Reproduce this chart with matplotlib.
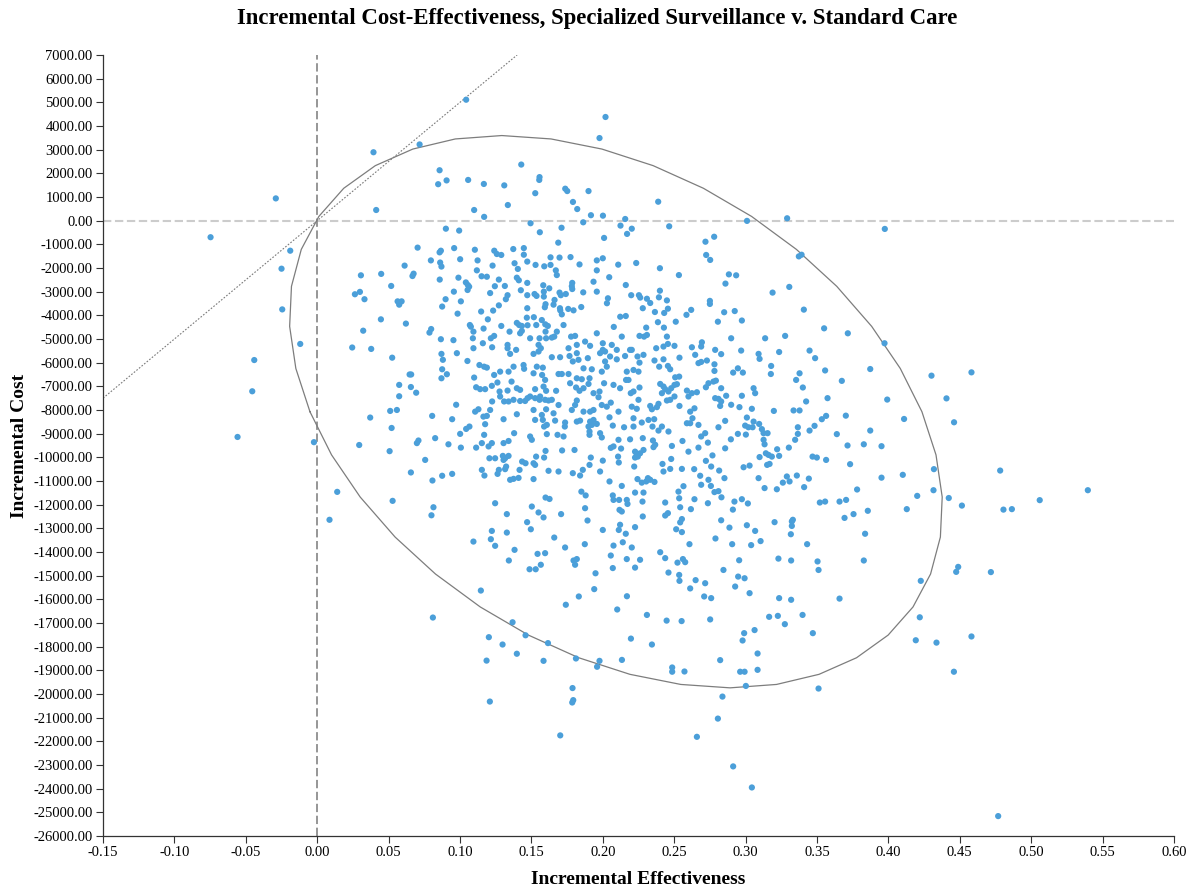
import numpy as np
import matplotlib.pyplot as plt
from matplotlib.ticker import MultipleLocator, FormatStrFormatter

plt.rcParams['font.family'] = ['Liberation Serif', 'DejaVu Serif']
plt.rcParams['lines.scale_dashes'] = False

# incremental effectiveness / incremental cost of each simulation run

# far left and left edge of the cloud
eff_left = [0.0394, -0.029, 0.0413, -0.0747, -0.0189, -0.025, -0.0245, 0.0717, 0.0703, 0.0612,
            0.0675, 0.0667, 0.0448, 0.0306, 0.0518, 0.0264, 0.0299, 0.0331, 0.0563, 0.0591,
            0.0574, 0.0446, 0.0621, 0.0322, -0.0119, -0.0441, 0.0245, 0.0378, 0.0525, 0.0647,
            0.0658, 0.0574, 0.0656, 0.0693, -0.0455, 0.0574, 0.0511, 0.0558, 0.0371, 0.0521,
            -0.0558, -0.0023, 0.0294, 0.0507, 0.0698, 0.0709, 0.0656, 0.014, 0.0528, 0.0086]
cost_left = [2890, 940, 450, -700, -1270, -2030, -3750, 3220, -1140, -1900,
             -2240, -2340, -2250, -2310, -2760, -3110, -3010, -3320, -3410, -3410,
             -3550, -4170, -4350, -4650, -5210, -5890, -5360, -5420, -5790, -6500,
             -6500, -6940, -7030, -7270, -7210, -7420, -8040, -8000, -8320, -8760,
             -9140, -9360, -9480, -9740, -9400, -9290, -10640, -11460, -11840, -12640]

# upper part, effectiveness 0.07 - 0.23
eff_upper = [0.1043, 0.2019, 0.1977, 0.1429, 0.0857, 0.0847, 0.0906, 0.1057, 0.1167, 0.131,
             0.1557, 0.1555, 0.1527, 0.1335, 0.1099, 0.1169, 0.1737, 0.1751, 0.19, 0.1791,
             0.1821, 0.1917, 0.2001, 0.1863, 0.1494, 0.1711, 0.1559, 0.2157, 0.2124, 0.2203,
             0.217, 0.2009, 0.1688, 0.0901, 0.0994, 0.0959, 0.0866, 0.0857, 0.1104, 0.124,
             0.1258, 0.1289, 0.1373, 0.1447, 0.1447, 0.0796, 0.0861, 0.087, 0.1001, 0.1123,
             0.1228, 0.1382, 0.1405, 0.1471, 0.1529, 0.159, 0.1634, 0.1697, 0.1774, 0.1634,
             0.1671, 0.1678, 0.1837, 0.1958, 0.2, 0.1958, 0.2108, 0.2234, 0.0858, 0.0989,
             0.1118, 0.1151, 0.1188, 0.1041, 0.1055, 0.1064, 0.1053, 0.1272, 0.1244, 0.1314,
             0.1398, 0.1412, 0.1471, 0.1426, 0.1583, 0.1625, 0.1587, 0.1587, 0.1471, 0.1522,
             0.1536, 0.0957, 0.0899, 0.1006, 0.0875, 0.0983, 0.1211, 0.1333, 0.1321, 0.1272,
             0.1232, 0.1148, 0.1195, 0.1069, 0.1076, 0.0798, 0.1165, 0.1289, 0.1471, 0.1468,
             0.1398, 0.1414, 0.1433, 0.1473, 0.1517, 0.1534, 0.1573, 0.1615, 0.1597, 0.1599,
             0.1594, 0.1662, 0.1655, 0.1697, 0.1706, 0.1741, 0.1786, 0.1783, 0.1786, 0.1863,
             0.1935, 0.1958, 0.2045, 0.2036, 0.2029, 0.2161, 0.2199, 0.2253, 0.2262, 0.228,
             0.17, 0.1713, 0.1702, 0.1758, 0.1795, 0.1849, 0.1725, 0.2122, 0.2161, 0.2077]
cost_upper = [5110, 4380, 3490, 2370, 2130, 1540, 1700, 1720, 1550, 1490,
              1840, 1720, 1160, 660, 450, 160, 1350, 1250, 1250, 790,
              490, 230, 210, -70, -110, -300, -490, 70, -210, -340,
              -560, -730, -930, -340, -420, -1160, -1270, -1340, -1230, -1270,
              -1410, -1450, -1200, -1160, -1440, -1680, -1770, -1940, -1630, -1680,
              -1900, -1800, -2040, -1730, -1870, -1930, -1550, -1560, -1540, -1870,
              -2100, -2300, -1850, -1680, -1590, -2100, -1860, -1790, -2490, -2410,
              -2100, -2350, -2370, -2610, -2720, -2790, -2930, -2490, -2770, -2760,
              -2410, -2520, -2630, -2940, -2730, -2860, -3000, -3210, -3150, -3100,
              -3180, -3000, -3320, -3410, -3630, -3930, -3060, -3150, -3320, -3580,
              -3800, -3840, -4170, -4410, -4480, -4580, -4560, -4450, -3700, -4100,
              -4320, -4410, -4450, -4420, -4080, -4410, -4200, -4450, -4380, -3530,
              -3660, -3350, -3550, -3040, -3150, -3100, -2630, -2770, -2890, -3030,
              -2580, -3000, -2390, -3280, -3490, -2720, -3150, -3150, -3250, -3700,
              -3700, -3960, -3790, -3730, -3790, -3650, -4410, -4060, -4030, -4490]

# upper right
eff_upper_r = [0.2388, 0.2465, 0.301, 0.3291, 0.2719, 0.278, 0.2724, 0.2752, 0.3373, 0.3392,
               0.24, 0.2533, 0.2883, 0.2934, 0.2859, 0.3189, 0.3306, 0.24, 0.2393, 0.2449,
               0.2309, 0.2332, 0.275, 0.275, 0.2456, 0.243, 0.2365, 0.2619, 0.2586, 0.285,
               0.2924, 0.3408, 0.2386, 0.2511, 0.2806, 0.2974, 0.2428, 0.2304, 0.355]
cost_upper_r = [800, -240, -10, 100, -890, -680, -1450, -1660, -1510, -1440,
                -2010, -2300, -2270, -2310, -2660, -3040, -2800, -2960, -3240, -3370,
                -3300, -3480, -3390, -3520, -3720, -3900, -3860, -3770, -3980, -3870,
                -3820, -3760, -4290, -4270, -4270, -4220, -4520, -4520, -4550]

# right side
eff_right = [0.3975, 0.3973, 0.3873, 0.4302, 0.4582, 0.3992, 0.4407, 0.411, 0.446, 0.3873,
             0.3952, 0.3952, 0.4101, 0.4319, 0.4316, 0.4202, 0.4129, 0.4423, 0.4515, 0.4783,
             0.4806, 0.4865, 0.506, 0.5397, 0.3856, 0.4489, 0.4475, 0.4718, 0.4227, 0.422,
             0.4192, 0.4337, 0.4582, 0.4459, 0.4769]
cost_right = [-350, -5180, -6270, -6550, -6410, -7560, -7510, -8380, -8520, -8870,
              -9530, -10860, -10740, -10500, -11390, -11630, -12190, -11720, -12040, -10560,
              -12210, -12190, -11810, -11390, -12260, -14630, -14840, -14850, -15220, -16760,
              -17730, -17830, -17570, -19060, -25160]

# lower right
eff_lower_r = [0.2537, 0.265, 0.2717, 0.2612, 0.271, 0.2759, 0.2927, 0.2948, 0.2993, 0.3028,
               0.2309, 0.2447, 0.2552, 0.2752, 0.2344, 0.2486, 0.2486, 0.2572, 0.2822, 0.2962,
               0.2993, 0.3084, 0.2979, 0.299, 0.3063, 0.3084, 0.3002, 0.2838, 0.2806, 0.2659,
               0.2913, 0.3044, 0.3165, 0.3226, 0.3235, 0.3319, 0.3275, 0.3399, 0.3471, 0.3511,
               0.3658]
cost_lower_r = [-15220, -15190, -15320, -15540, -15880, -15950, -15460, -15040, -15110, -15740,
                -16660, -16900, -16920, -16850, -17910, -18880, -19060, -19050, -18570, -19060,
                -19060, -18980, -17740, -17430, -17300, -18290, -19660, -20110, -21040, -21810,
                -23060, -23950, -16740, -16700, -15950, -16020, -17050, -16660, -17430, -19770,
                -15970]

# lower left
eff_lower = [0.1146, 0.081, 0.1368, 0.1202, 0.1298, 0.1459, 0.1398, 0.1186, 0.1616, 0.1585,
             0.1741, 0.1832, 0.194, 0.1812, 0.1977, 0.196, 0.2134, 0.2197, 0.2101, 0.2169,
             0.1788, 0.1793, 0.1786, 0.1209, 0.1702]
cost_lower = [-15630, -16770, -16970, -17600, -17910, -17520, -18300, -18590, -17850, -18600,
              -16230, -15880, -15570, -18500, -18600, -18850, -18560, -17660, -16430, -15870,
              -19750, -20260, -20360, -20320, -21750]

# core of the cloud, effectiveness 0.07 - 0.23
eff_core = [0.0786, 0.0866, 0.0954, 0.1094, 0.109, 0.116, 0.1239, 0.1216, 0.1347, 0.1421,
            0.1333, 0.1433, 0.1491, 0.1557, 0.155, 0.1603, 0.1643, 0.1678, 0.166, 0.1599,
            0.1778, 0.1806, 0.1818, 0.1876, 0.1911, 0.1958, 0.2, 0.2016, 0.2133, 0.2063,
            0.2191, 0.2257, 0.2289,
            0.087, 0.088, 0.0978, 0.1052, 0.1094, 0.1225, 0.1333, 0.1393, 0.1351, 0.1515,
            0.155, 0.1566, 0.1643, 0.1701, 0.176, 0.1767, 0.179, 0.183, 0.1818, 0.1895,
            0.1981, 0.2, 0.2051, 0.2098, 0.2098, 0.2156, 0.2243, 0.2257, 0.2285, 0.2203,
            0.0875, 0.0908, 0.087, 0.1136, 0.1169, 0.1188, 0.1375, 0.1445, 0.1449, 0.1281,
            0.134, 0.1239, 0.1099, 0.1538, 0.158, 0.1515, 0.169, 0.1713, 0.176, 0.1865,
            0.1923, 0.1993, 0.2028, 0.2016, 0.2168, 0.2215, 0.225, 0.1818, 0.1853, 0.1907,
            0.1575, 0.1596, 0.2009,
            0.1113, 0.1141, 0.1176, 0.1223, 0.1262, 0.1277, 0.1333, 0.1361, 0.1398, 0.1421,
            0.1526, 0.1585, 0.1603, 0.1673, 0.1771, 0.1813, 0.1837, 0.1865, 0.19, 0.1935,
            0.197, 0.2075, 0.2121, 0.2163, 0.218, 0.2215, 0.2196, 0.2257, 0.1977,
            0.0973, 0.1106, 0.1129, 0.1211, 0.1225, 0.1281, 0.1309, 0.134, 0.1375, 0.1421,
            0.1456, 0.1473, 0.1491, 0.1526, 0.1557, 0.1561, 0.1596, 0.162, 0.1643, 0.1515,
            0.1603, 0.1573, 0.1655, 0.169, 0.1783, 0.1818, 0.1806, 0.1865, 0.1911, 0.1935,
            0.1993, 0.2028, 0.2056, 0.211, 0.2203, 0.2238, 0.225, 0.0805, 0.1398, 0.1188,
            0.0945, 0.1066, 0.1043, 0.1164, 0.1176, 0.1305, 0.1526, 0.158, 0.1608, 0.1666,
            0.1736, 0.1818, 0.1841, 0.1911, 0.1935, 0.19, 0.1923, 0.1958, 0.2047, 0.207,
            0.2149, 0.2215, 0.2273, 0.1734, 0.1589, 0.2215,
            0.0826, 0.0919, 0.1001, 0.1006, 0.1113, 0.1169, 0.1153, 0.12, 0.1223, 0.1305,
            0.134, 0.1379, 0.1491, 0.1503, 0.1608, 0.1683, 0.1725, 0.1907, 0.1907, 0.1981,
            0.1993, 0.211, 0.2191, 0.228, 0.2056, 0.2075, 0.2128,
            0.0756, 0.1206, 0.1246, 0.13, 0.1316, 0.134, 0.1305, 0.1435, 0.1459, 0.1533,
            0.1515, 0.1599, 0.1589, 0.1715, 0.1802, 0.1916, 0.2, 0.2107, 0.2112, 0.2226,
            0.2238, 0.2261, 0.2245, 0.2226, 0.2285,
            0.1153, 0.1171, 0.1272, 0.1263, 0.1323, 0.1316, 0.1351, 0.1375, 0.141, 0.1417,
            0.1515, 0.1526, 0.162, 0.169, 0.179, 0.1841, 0.186, 0.1907, 0.1981, 0.2047,
            0.2133, 0.222, 0.2243, 0.2273, 0.0807, 0.0875, 0.0945,
            0.185, 0.188, 0.1876, 0.207, 0.2075, 0.2114, 0.2168, 0.2173, 0.2117, 0.2133,
            0.2226, 0.2285, 0.2278, 0.0814, 0.08, 0.1246, 0.1328, 0.1503, 0.155, 0.1585,
            0.1599, 0.1627, 0.1708,
            0.1893, 0.2, 0.2121, 0.2112, 0.2161, 0.2226, 0.228, 0.1094, 0.1223, 0.1216,
            0.1328, 0.147, 0.1496, 0.166, 0.1736, 0.1874, 0.2075, 0.214, 0.2203, 0.1246,
            0.1342, 0.1382, 0.1543, 0.1596, 0.1487, 0.153, 0.1566, 0.1795, 0.1818, 0.1806,
            0.1949, 0.2056, 0.207, 0.2168, 0.2226, 0.2261]
cost_core = [-4730, -5010, -5050, -4690, -4970, -5180, -4870, -4970, -4690, -4760,
             -5250, -4660, -4970, -4970, -5250, -4970, -4940, -4690, -4900, -4690,
             -4900, -4870, -5250, -5110, -5290, -4760, -5180, -5530, -4900, -5250,
             -5460, -4870, -4900,
             -5630, -5880, -5600, -5930, -5390, -5350, -5390, -5460, -5630, -5630,
             -5530, -5390, -5770, -5770, -5390, -5720, -5950, -5880, -5600, -5810,
             -5600, -5460, -5740, -5460, -5860, -5720, -5740, -6000, -5670, -5460,
             -6280, -6490, -6660, -6100, -6170, -6210, -6170, -6100, -6260, -6380,
             -6380, -6520, -6630, -6170, -6210, -6450, -6480, -6480, -6480, -6240,
             -6280, -6380, -6170, -5950, -6380, -6310, -6380, -6660, -6700, -6660,
             -6520, -6730, -6870,
             -7040, -7120, -7120, -6980, -6840, -7220, -7180, -6800, -7080, -7150,
             -7120, -7010, -7190, -7190, -6870, -7050, -7190, -7080, -6900, -7290,
             -7460, -6940, -7080, -6730, -6730, -7220, -7290, -7050, -7220,
             -7780, -8070, -7970, -8000, -7640, -7430, -7640, -7640, -7570, -7620,
             -7620, -7500, -7430, -7500, -7570, -7430, -7570, -7600, -7570, -8000,
             -7970, -8210, -8140, -7790, -8000, -7600, -7790, -8070, -8070, -8000,
             -7790, -7860, -7690, -8070, -7860, -7950, -7570, -8250, -8180, -8250,
             -8390, -8700, -8800, -8280, -8600, -8390, -8420, -8420, -8630, -8450,
             -8530, -8490, -8450, -8490, -8420, -8700, -8630, -8590, -8310, -8660,
             -8730, -8350, -8530, -8700, -8700, -8700,
             -9190, -9450, -9010, -9590, -9590, -9050, -9400, -9540, -9400, -9400,
             -9310, -8980, -9120, -9260, -9020, -9050, -9120, -9050, -8910, -8980,
             -9160, -9260, -9240, -9190, -9600, -9540, -9630,
             -10110, -10040, -10040, -9940, -10040, -9940, -10110, -10180, -10250, -9970,
             -10250, -9730, -10010, -9710, -9690, -10010, -10140, -9970, -10220, -9760,
             -9850, -9830, -9970, -10010, -9690,
             -10530, -10770, -10530, -10700, -10390, -10500, -10950, -10910, -10870, -10530,
             -10920, -10320, -10570, -10600, -10670, -10770, -10530, -10320, -10600, -11020,
             -11210, -10390, -10920, -11070, -10980, -10780, -10700,
             -11450, -11610, -12150, -11610, -11800, -11800, -11800, -11970, -12220, -12290,
             -11490, -11490, -11870, -12110, -12450, -11940, -12400, -12080, -12330, -12540,
             -11700, -11760, -12400,
             -12670, -13070, -12850, -13070, -13230, -12950, -12500, -13560, -13110, -13460,
             -13180, -12740, -13040, -13390, -13810, -13670, -13730, -13590, -13810, -13740,
             -14360, -13910, -14080, -14050, -14730, -14730, -14540, -14360, -14300, -14540,
             -14900, -14150, -14680, -14300, -14660, -14330]

# core of the cloud, effectiveness 0.23 - 0.39
eff_mid = [0.2309, 0.2449, 0.2374, 0.2425, 0.2456, 0.2502, 0.2624, 0.2694, 0.2689, 0.2787,
           0.2899, 0.2969, 0.3137, 0.3277, 0.3716,
           0.2362, 0.2395, 0.2425, 0.2456, 0.2472, 0.2537, 0.2647, 0.267, 0.2689, 0.2729,
           0.2782, 0.2782, 0.2829, 0.2913, 0.2946, 0.2981, 0.3091, 0.3098, 0.3235, 0.3179,
           0.3177, 0.3448, 0.3487, 0.3557, 0.3378,
           0.2402, 0.2425, 0.2414, 0.2437, 0.246, 0.2479, 0.2502, 0.2519, 0.2507, 0.2535,
           0.2589, 0.26, 0.2624, 0.2659, 0.2722, 0.274, 0.2775, 0.2792, 0.2829, 0.2864,
           0.2974, 0.3056, 0.3067, 0.3354, 0.3401, 0.3674,
           0.2332, 0.2344, 0.239, 0.2379, 0.2449, 0.2472, 0.2502, 0.2537, 0.2612, 0.2642,
           0.2787, 0.281, 0.2822, 0.2829, 0.2899, 0.2957, 0.3044, 0.3198, 0.3336, 0.3378,
           0.3424, 0.3574, 0.3534, 0.3564, 0.3702,
           0.232, 0.236, 0.2348, 0.2414, 0.239, 0.246, 0.2589, 0.2612, 0.2628, 0.267,
           0.281, 0.2857, 0.3009, 0.2997, 0.302, 0.3056, 0.3049, 0.3095, 0.3114, 0.3126,
           0.3154, 0.2946, 0.3002, 0.2897, 0.2689, 0.2717, 0.3366, 0.3366, 0.3448, 0.3483,
           0.3639,
           0.2351, 0.2367, 0.2355, 0.2484, 0.2558, 0.26, 0.267, 0.2736, 0.2857, 0.3126,
           0.3133, 0.3142, 0.3161, 0.3184, 0.3151, 0.3168, 0.3221, 0.3235, 0.3098, 0.3303,
           0.3347, 0.3469, 0.3499, 0.3564, 0.3714, 0.3828, 0.2479, 0.2418,
           0.2425, 0.2472, 0.2554, 0.264, 0.2722, 0.2768, 0.2759, 0.2815, 0.2852, 0.2682,
           0.274, 0.2689, 0.2757, 0.2986, 0.3028, 0.3091, 0.3133, 0.3219, 0.3261, 0.3289,
           0.3308, 0.3359, 0.341, 0.3443, 0.3732, 0.3781, 0.2316, 0.2332, 0.2304, 0.2362,
           0.2565, 0.253, 0.2535, 0.2782, 0.281, 0.2831, 0.2642, 0.2542, 0.2617, 0.2736,
           0.2922, 0.2974, 0.3016, 0.2911, 0.2437, 0.2456, 0.2437, 0.352, 0.3557, 0.3658,
           0.3704, 0.3756, 0.3693,
           0.2554, 0.2542, 0.2514, 0.2554, 0.2829, 0.2887, 0.3009, 0.3067, 0.3203, 0.3324,
           0.3331, 0.3324, 0.3317, 0.2789, 0.3105, 0.3039, 0.2906, 0.2607, 0.3431, 0.3837,
           0.2402, 0.2437, 0.2523, 0.2561, 0.2577, 0.2955, 0.2845, 0.323, 0.3319, 0.3504,
           0.3511, 0.3828, 0.246, 0.2535]
cost_mid = [-4830, -4900, -5390, -5320, -5210, -5290, -5350, -5140, -5320, -5460,
            -4970, -5490, -4970, -4870, -4760,
            -5910, -6170, -5860, -6140, -6280, -5790, -5670, -6020, -5970, -5910,
            -6070, -6350, -5640, -6420, -6240, -6420, -5630, -5840, -5550, -6140,
            -6480, -5490, -5810, -6330, -6450,
            -6900, -7010, -7290, -7120, -7220, -7080, -6940, -6910, -6620, -6590,
            -7180, -7430, -7290, -7250, -7040, -6870, -6800, -6760, -7080, -7400,
            -7400, -7080, -7290, -6730, -7050, -6770,
            -7830, -7970, -7740, -7880, -7600, -7570, -7430, -7830, -8070, -7930,
            -7500, -7530, -7830, -7640, -7780, -7880, -7950, -8040, -8020, -8020,
            -7640, -7500, -8390, -8250, -8240,
            -8420, -8390, -8700, -8700, -8870, -8910, -8560, -8560, -8350, -8630,
            -8730, -8460, -8320, -8660, -8730, -8490, -8730, -8590, -8810, -8980,
            -8980, -9010, -9040, -9240, -9120, -8980, -8730, -9010, -8870, -8670,
            -9020,
            -9290, -9470, -9570, -9520, -9310, -9760, -9590, -9380, -9620, -9260,
            -9450, -9830, -9900, -9970, -10320, -10280, -9660, -9940, -9990, -9590,
            -9260, -9970, -10010, -10110, -9500, -9450, -10070, -10280,
            -10600, -10490, -10490, -10500, -10150, -9920, -10390, -10560, -10880, -10780,
            -10950, -11160, -11210, -10420, -10350, -10880, -11300, -11350, -11070, -10810,
            -11020, -10770, -11260, -10900, -10290, -11360, -10880, -10950, -11020, -11040,
            -11220, -11450, -11730, -11470, -11430, -11690, -11770, -12110, -12190, -11940,
            -11870, -11770, -11950, -12210, -11910, -12360, -12460, -11910, -11870, -11870,
            -11800, -12400, -12560,
            -12610, -12750, -13040, -13160, -12660, -12970, -12870, -13110, -12740, -12710,
            -12640, -12900, -13250, -13430, -13540, -13710, -13670, -13670, -13670, -13230,
            -14010, -14260, -14450, -14300, -14430, -14350, -14760, -14280, -14360, -14400,
            -14760, -14360, -14870, -14970]

wtp = 50000  # willingness-to-pay threshold per unit of effectiveness

groups = [(eff_left, cost_left), (eff_upper, cost_upper), (eff_upper_r, cost_upper_r),
          (eff_right, cost_right), (eff_lower_r, cost_lower_r), (eff_lower, cost_lower),
          (eff_core, cost_core), (eff_mid, cost_mid)]
for e, c in groups:
    assert len(e) == len(c), (len(e), len(c))

effect = np.concatenate([np.array(e) for e, c in groups])
cost = np.concatenate([np.array(c) for e, c in groups])

# 95% confidence ellipse from the sample covariance
def conf_ellipse(x, y, n=40):
    mu = np.array([x.mean(), y.mean()])
    cov = np.cov(x, y)
    vals, vecs = np.linalg.eigh(cov)
    k = np.sqrt(5.991)
    t = np.linspace(0, 2 * np.pi, n + 1)
    circ = np.vstack([np.cos(t), np.sin(t)]) * (k * np.sqrt(vals))[:, None]
    pts = vecs @ circ
    return pts[0] + mu[0], pts[1] + mu[1]

fig = plt.figure(figsize=(11.94, 8.94), dpi=100)
ax = fig.add_axes([0.0863, 0.0649, 0.8969, 0.8736])

ax.set_xlim(-0.15, 0.60)
ax.set_ylim(-26000, 7000)

ax.axhline(0, color='#cccccc', lw=1.5, dashes=(6, 2.6), zorder=1)
ax.axvline(0, color='#8e8e8e', lw=1.3, dashes=(6, 2.6), zorder=1)

# threshold line through the origin
wx = np.array([-0.15, 7000 / wtp])
ax.plot(wx, wx * wtp, color='#7a7a7a', lw=0.8, dashes=(1.2, 1.2), zorder=1)

ex, ey = conf_ellipse(effect, cost)
ax.plot(ex, ey, color='#7d7d7d', lw=0.9, zorder=2)

ax.scatter(effect, cost, s=20, color='#4b9fd9', edgecolors='none', zorder=3)

ax.xaxis.set_major_locator(MultipleLocator(0.05))
ax.yaxis.set_major_locator(MultipleLocator(1000))
ax.xaxis.set_major_formatter(FormatStrFormatter('%.2f'))
ax.yaxis.set_major_formatter(FormatStrFormatter('%.2f'))
ax.tick_params(labelsize=10.5, length=5, width=0.8, color='#333333', direction='out', pad=2.5)
for s in ['top', 'right']:
    ax.spines[s].set_visible(False)
for s in ['left', 'bottom']:
    ax.spines[s].set_color('#333333')
    ax.spines[s].set_linewidth(0.9)

ax.set_xlabel('Incremental Effectiveness', fontsize=14, fontweight='bold', labelpad=8)
ax.set_ylabel('Incremental Cost', fontsize=14, fontweight='bold', labelpad=4)
fig.text(0.5, 0.979, 'Incremental Cost-Effectiveness, Specialized Surveillance v. Standard Care',
         ha='center', va='center', fontsize=16.4, fontweight='bold')

fig.savefig('out.png', dpi=100)
